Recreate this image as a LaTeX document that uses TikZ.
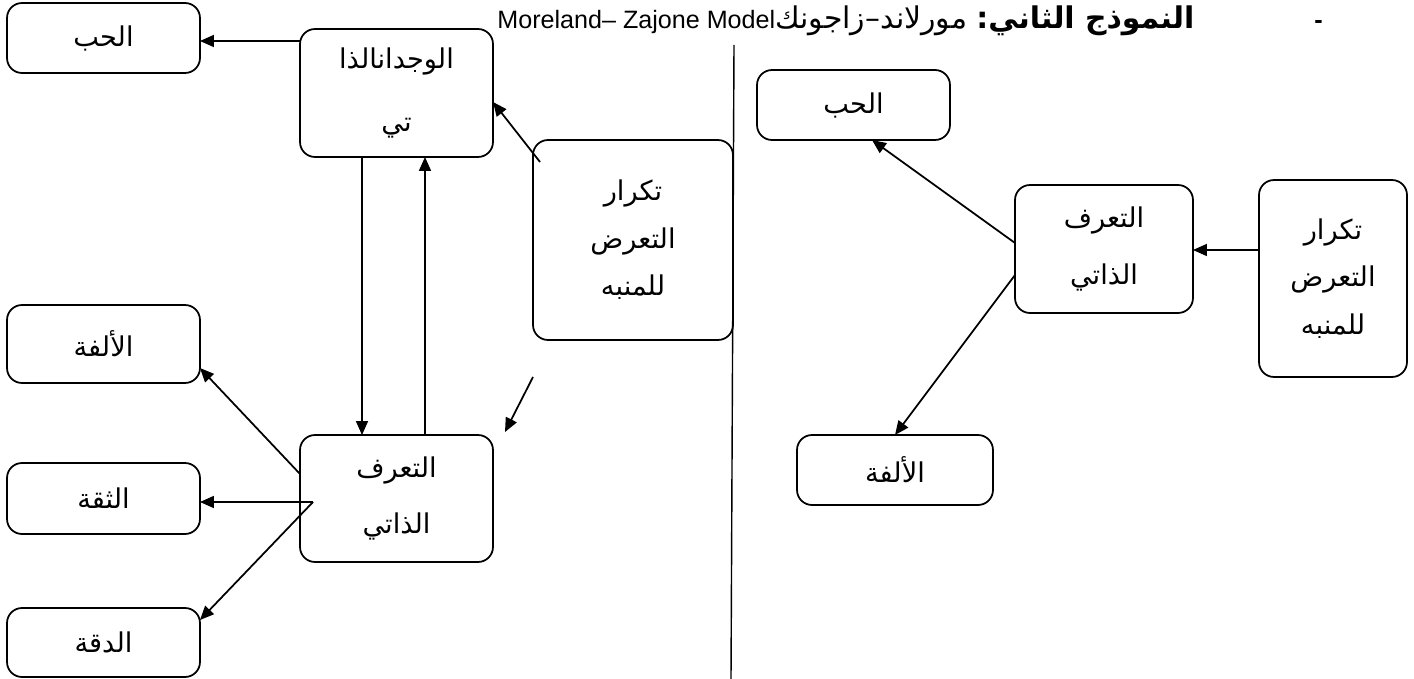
\documentclass[tikz,border=0pt]{standalone}
\usepackage{fontspec}
\setmainfont{Liberation Sans}
\newfontfamily\ar[Script=Arabic]{DejaVu Sans}
\TeXXeTstate=1
\usetikzlibrary{arrows.meta,calc}
\begin{document}
\begin{tikzpicture}[x=0.02cm,y=-0.02cm,
  box/.style={draw,line width=1pt,rounded corners=0.3cm,inner sep=0pt,outer sep=0pt,align=center,
    font=\ar\fontsize{15.5}{27}\selectfont},
  arr/.style={line width=1pt,-{Triangle[length=0.28cm,width=0.24cm]}},
  plain/.style={line width=0.8pt}]
\useasboundingbox (0,0) rectangle (1414,679);
% left side
\node[box,minimum width=3.86cm,minimum height=1.4cm] (hubL) at (103.5,38) {\beginR الحب\endR};
\node[box,minimum width=3.86cm,minimum height=2.56cm] (wijdan) at (396.5,93) {\beginR الوجدانالذا\endR\\[9pt]\beginR تي\endR};
\node[box,minimum width=4.0cm,minimum height=4.0cm] (takrarL) at (633,240) {\beginR تكرار\endR\\\beginR التعرض\endR\\\beginR للمنبه\endR};
\node[box,minimum width=3.86cm,minimum height=1.56cm] (ulfaL) at (103.5,344) {\beginR الألفة\endR};
\node[box,minimum width=3.86cm,minimum height=1.42cm] (thiqa) at (103.5,498.5) {\beginR الثقة\endR};
\node[box,minimum width=3.86cm,minimum height=1.38cm] (diqqa) at (103.5,642.5) {\beginR الدقة\endR};
\node[box,minimum width=3.86cm,minimum height=2.54cm] (taarufL) at (396.5,498.5) {\beginR التعرف\endR\\[5pt]\beginR الذاتي\endR};
% right side
\node[box,minimum width=3.86cm,minimum height=1.4cm] (hubR) at (853.5,105) {\beginR الحب\endR};
\node[box,minimum width=3.56cm,minimum height=2.56cm] (taarufR) at (1104,249) {\beginR التعرف\endR\\[5pt]\beginR الذاتي\endR};
\node[box,minimum width=2.96cm,minimum height=3.94cm] (takrarR) at (1333,278.5) {\beginR تكرار\endR\\\beginR التعرض\endR\\\beginR للمنبه\endR};
\node[box,minimum width=3.92cm,minimum height=1.4cm] (ulfaR) at (895,470) {\beginR الألفة\endR};
% title
\node[anchor=west,inner sep=0pt] (title) at (497,21) {\fontsize{14.3}{16}\selectfont\beginR{\bfseries -}\hspace{2.4cm}{\ar\fontsize{17}{18}\selectfont\bfseries النموذج الثاني:} {\ar\fontsize{17}{18}\selectfont مورلاند–زاجونك}\beginL Moreland– Zajone Model\endL\endR};
% divider
\coordinate (dtop) at (734,45);
\coordinate (dbot) at (731,679);
\draw[plain] (dtop) -- (dbot);
% left connectors
\draw[arr] (wijdan.west |- 0,41) -- (hubL.east |- 0,41);
\draw[arr] ([shift={(7,22)}]takrarL.north west) -- (wijdan.east |- 0,102);
\draw[arr] (wijdan.south -| 362,0) -- (taarufL.north -| 362,0);
\draw[arr] (taarufL.north -| 425,0) -- (wijdan.south -| 425,0);
\coordinate (fa) at (533,377);
\coordinate (fb) at (505,432);
\draw[arr] (fa) -- (fb);
\draw[arr] (taarufL.west |- 0,474) -- (ulfaL.east |- 0,368);
\coordinate (cx) at (313,502);
\draw[arr] (cx) -- (thiqa.east |- 0,502);
\draw[arr] (cx) -- (diqqa.east |- 0,620);
% right connectors
\draw[arr] (takrarR.west |- 0,250) -- (taarufR.east |- 0,250);
\draw[arr] (taarufR.west |- 0,243) -- (hubR.south -| 872,0);
\draw[arr] (taarufR.west |- 0,275) -- (ulfaR.north -| 895,0);
\end{tikzpicture}
\end{document}
